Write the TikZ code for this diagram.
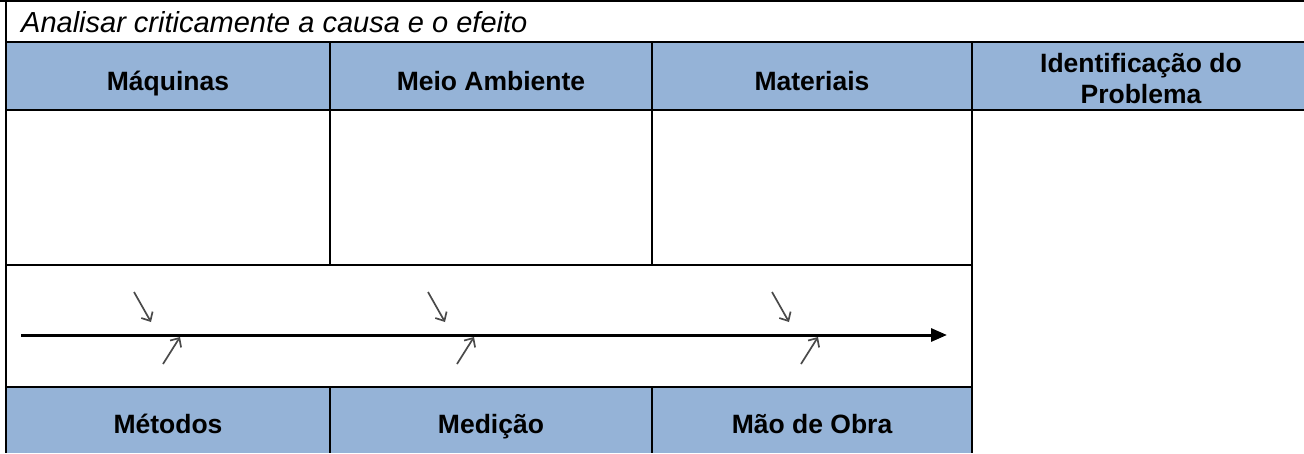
\documentclass[tikz,border=0pt]{standalone}
\usepackage{fontspec}
\setmainfont{Liberation Sans}
\usetikzlibrary{arrows.meta}
\definecolor{hdrblue}{HTML}{95B3D7}
\definecolor{tickgray}{HTML}{4A4A4A}
\begin{document}
\begin{tikzpicture}[x=1pt,y=-1pt,
  grid/.style={line width=2.6pt, black},
  hdr/.style={font=\fontsize{26.5}{31}\selectfont\bfseries, inner sep=0pt, anchor=base, align=center},
  ttl/.style={font=\fontsize{29}{33}\selectfont\itshape, inner sep=0pt, anchor=base west},
  spine/.style={line width=3pt, -{Triangle[length=16pt,width=13pt]}},
  bone/.style={line width=1.7pt, tickgray, -{Straight Barb[length=7pt,width=13pt]}}
]
\useasboundingbox (0,0) rectangle (1304,453);
\fill[white] (0,0) rectangle (1304,453);
% header fills
\fill[hdrblue] (6,42) rectangle (1304,110);
\fill[hdrblue] (6,387) rectangle (972,453);
% grid lines
\draw[grid] (0,1) -- (1304,1);
\draw[grid] (6,0) -- (6,453);
\draw[grid] (6,42) -- (1304,42);
\draw[grid] (6,110) -- (1304,110);
\draw[grid] (6,265) -- (972,265);
\draw[grid] (6,387) -- (972,387);
\draw[grid] (330,42) -- (330,265);
\draw[grid] (330,387) -- (330,453);
\draw[grid] (652,42) -- (652,265);
\draw[grid] (652,387) -- (652,453);
\draw[grid] (972,42) -- (972,453);
% title
\node[ttl] (title) at (21,32.5) {Analisar criticamente a causa e o efeito};
% top headers
\node[hdr] (maq) at (168,90.5) {Máquinas};
\node[hdr] (meio) at (491,90.5) {Meio Ambiente};
\node[hdr] (mat) at (812,90.5) {Materiais};
\node[hdr] (ident) at (1141,103.3) {Identificação do\\Problema};
% bottom headers
\node[hdr] (met) at (168,433) {Métodos};
\node[hdr] (med) at (491,433) {Medição};
\node[hdr] (mao) at (812,433) {Mão de Obra};
% spine
\coordinate (s) at (21,335);
\coordinate (e) at (947,335);
\draw[spine] (s) -- (e);
% bones
\foreach \dx [count=\i] in {0,294,638}{
  \coordinate (d\i a) at (134+\dx,292);
  \coordinate (d\i b) at (151+\dx,322);
  \coordinate (u\i a) at (163+\dx,364);
  \coordinate (u\i b) at (180+\dx,337);
  \draw[bone] (d\i a) -- (d\i b);
  \draw[bone] (u\i a) -- (u\i b);
}
\end{tikzpicture}
\end{document}
